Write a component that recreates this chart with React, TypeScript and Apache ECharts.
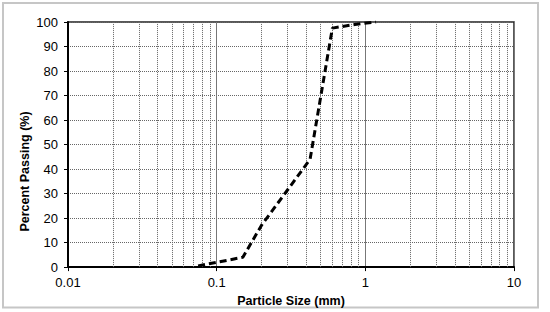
import React, { useEffect, useRef } from "react";
import * as echarts from "echarts";

const particleSize = [0.075, 0.15, 0.2, 0.425, 0.6, 0.85, 1.18];
const percentPassing = [0.5, 4, 17, 44, 97.5, 99, 100];
const minorGridX = [
  0.02, 0.03, 0.04, 0.05, 0.06, 0.07, 0.08, 0.09,
  0.2, 0.3, 0.4, 0.5, 0.6, 0.7, 0.8, 0.9,
  2, 3, 4, 5, 6, 7, 8, 9,
];
const xTitle = "Particle Size (mm)";
const yTitle = "Percent Passing (%)";

export default function App() {
  const ref = useRef<HTMLDivElement>(null);
  useEffect(() => {
    if (!ref.current) return;
    const chart = echarts.init(ref.current, null, { renderer: "svg" });
    const font = "Arial, 'Liberation Sans', sans-serif";
    chart.setOption({
      animation: false,
      backgroundColor: "#fff",
      grid: {
        left: 68,
        right: 36,
        top: 22,
        bottom: 43,
        show: true,
        borderColor: "#222",
        borderWidth: 1.5,
        backgroundColor: "transparent",
      },
      graphic: [
        {
          type: "rect",
          shape: { x: 3, y: 3, width: 535, height: 304.5 },
          style: { fill: "none", stroke: "#c6c6c6", lineWidth: 2 },
          silent: true,
        },
        {
          type: "text",
          x: 24.5,
          y: 171.5,
          rotation: Math.PI / 2,
          style: {
            text: yTitle,
            fontFamily: font,
            fontWeight: "bold",
            fontSize: 12.5,
            fill: "#000",
            align: "center",
            verticalAlign: "middle",
          },
          silent: true,
        },
      ],
      xAxis: {
        type: "log",
        logBase: 10,
        min: 0.01,
        max: 10,
        name: xTitle,
        nameLocation: "middle",
        nameGap: 22,
        nameTextStyle: { fontFamily: font, fontWeight: "bold", fontSize: 12.5, color: "#000" },
        axisLine: { show: true, lineStyle: { color: "#000", width: 2 } },
        axisTick: { show: true, inside: false, length: 4, lineStyle: { color: "#000", width: 1 } },
        axisLabel: {
          fontFamily: font,
          fontSize: 13,
          color: "#000",
          margin: 9,
          formatter: (v: number) => String(parseFloat(Number(v).toPrecision(6))),
        },
        splitLine: { show: true, lineStyle: { color: "#777", width: 1, type: "solid" } },
      },
      yAxis: {
        type: "value",
        min: 0,
        max: 100,
        interval: 10,
        axisLine: { show: true, lineStyle: { color: "#000", width: 2 } },
        axisTick: { show: true, inside: false, length: 4, lineStyle: { color: "#000", width: 1 } },
        axisLabel: { fontFamily: font, fontSize: 13, color: "#000", margin: 10 },
        splitLine: { show: true, lineStyle: { color: "#666", width: 1, type: "dotted" } },
      },
      series: [
        {
          type: "line",
          data: particleSize.map((x, i) => [x, percentPassing[i]]),
          symbol: "none",
          lineStyle: { color: "#000", width: 3, type: [7, 4] },
          markLine: {
            silent: true,
            symbol: "none",
            label: { show: false },
            lineStyle: { color: "#666", width: 1, type: "dotted" },
            data: minorGridX.map((x) => ({ xAxis: x })),
          },
          z: 5,
        },
      ],
    });
    return () => chart.dispose();
  }, []);
  return (
    <div
      ref={ref}
      style={{ position: "fixed", left: 0, top: 0, width: 550, height: 312 }}
    />
  );
}
